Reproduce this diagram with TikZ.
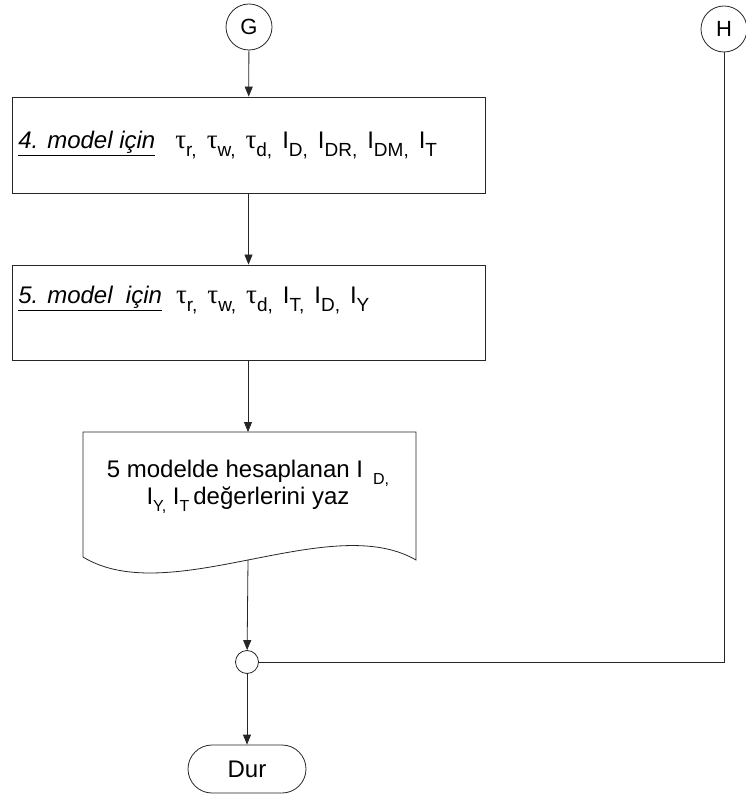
\documentclass[tikz,border=0pt]{standalone}
\usepackage{fontspec}
\setmainfont{Liberation Sans}
\newfontfamily\grk{Liberation Serif}
\usetikzlibrary{arrows.meta,shapes.misc}
% small lowered index, comma included, as in τ_r, I_D
\newcommand\sbs[1]{\raisebox{-0.3em}{\fontsize{19}{19}\selectfont #1}}
\newcommand\docsbs[1]{\raisebox{-0.3em}{\fontsize{16}{16}\selectfont #1}}
\newcommand\tauof[1]{{\grk\fontsize{27}{27}\selectfont τ}\sbs{#1}}
\newcommand\gap{\hspace{10pt}}
\begin{document}
\begin{tikzpicture}[x=1pt,y=-1pt,
  line width=0.8pt,
  conn/.style={draw=black!85},
  flowarrow/.style={conn,-{Triangle[length=10pt,width=8pt]}},
  connector/.style={circle,draw=black!85,minimum size=46pt,inner sep=0pt,font=\fontsize{22}{22}\selectfont},
  joint/.style={circle,draw=black!85,minimum size=23pt,inner sep=0pt},
  procbox/.style={rectangle,draw=black!85,minimum width=473pt,inner sep=0pt},
  boxtext/.style={anchor=west,inner sep=0pt,font=\fontsize{24}{28}\selectfont},
  terminal/.style={rounded rectangle,draw=black!85,minimum width=118pt,minimum height=48pt,inner sep=0pt,font=\fontsize{24}{24}\selectfont}
]
\useasboundingbox (0,0) rectangle (745,799);

% off-page connectors
\node[connector] (G) at (249,27) {G};
\node[connector] (H) at (724,29) {H};

% process boxes
\node[procbox,minimum height=96pt] (m4) at (248.5,145) {};
\node[boxtext] (t4) at (18,145)
  {{\itshape\underline{4. model için}}\hspace{20pt}\tauof{r,}\gap\tauof{w,}\gap\tauof{d,}\gap I\sbs{D,}\gap I\sbs{DR,}\gap I\sbs{DM,}\gap I\sbs{T}};

\node[procbox,minimum height=95pt] (m5) at (248.5,312.5) {};
\node[boxtext] (t5) at (18,300)
  {{\itshape\underline{5. model\ \ için}}\hspace{14pt}\tauof{r,}\gap\tauof{w,}\gap\tauof{d,}\gap I\sbs{T,}\gap I\sbs{D,}\gap I\sbs{Y}};

% output document with wavy lower edge
\coordinate (docTop) at (248,432);
\coordinate (docBot) at (248,560);
\draw[conn] (83,432) -- (416,432) -- (416,560)
  .. controls (330,510) and (170,610) .. (83,557) -- cycle;
\node[align=center,inner sep=0pt,font=\fontsize{24}{27}\selectfont] (out) at (248,487)
  {5 modelde hesaplanan I\hspace{10pt}\docsbs{D,}\\I\docsbs{Y,} I\docsbs{T}\,değerlerini yaz};

% merge point and end
\node[joint] (j) at (247,662) {};
\node[terminal] (stop) at (247,769) {Dur};

% connections
\draw[flowarrow] (G) -- (m4);
\draw[flowarrow] (m4) -- (m5);
\draw[flowarrow] (m5.south -| docTop) -- (docTop);
\draw[flowarrow] (docBot) -- (j);
\draw[flowarrow] (j) -- (stop);
\draw[conn] (H) |- (j);
\end{tikzpicture}
\end{document}
